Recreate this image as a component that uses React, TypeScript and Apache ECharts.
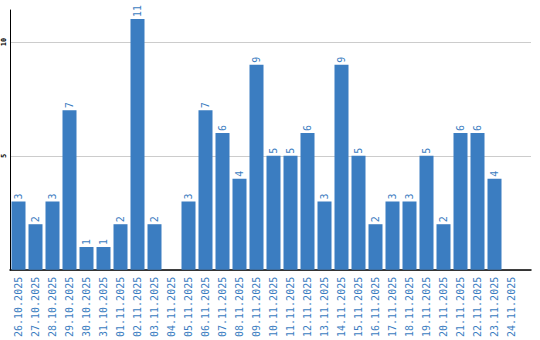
import React, { useEffect, useRef } from "react";
import * as echarts from "echarts";

const categories = [
  "26.10.2025", "27.10.2025", "28.10.2025", "29.10.2025", "30.10.2025", "31.10.2025",
  "01.11.2025", "02.11.2025", "03.11.2025", "04.11.2025", "05.11.2025", "06.11.2025",
  "07.11.2025", "08.11.2025", "09.11.2025", "10.11.2025", "11.11.2025", "12.11.2025",
  "13.11.2025", "14.11.2025", "15.11.2025", "16.11.2025", "17.11.2025", "18.11.2025",
  "19.11.2025", "20.11.2025", "21.11.2025", "22.11.2025", "23.11.2025", "24.11.2025",
];
const values = [3, 2, 3, 7, 1, 1, 2, 11, 2, 0, 3, 7, 6, 4, 9, 5, 5, 6, 3, 9, 5, 2, 3, 3, 5, 2, 6, 6, 4, 0];
const yMin = 0;
const yMax = 11.4;
const yInterval = 5;

const BLUE = "#3b7dc1";
const MONO = "'DejaVu Sans Mono', monospace";

export default function App() {
  const ref = useRef<HTMLDivElement>(null);
  useEffect(() => {
    document.body.style.margin = "0";
    if (!ref.current) return;
    const chart = echarts.init(ref.current, null, { renderer: "svg" });
    chart.setOption({
      animation: false,
      grid: [
        { left: 10, right: 20, top: 10, bottom: 70 },
        { left: 10, right: 9, top: 10, bottom: 70 },
      ],
      xAxis: [
        {
          type: "category",
          gridIndex: 0,
          data: categories,
          axisLine: { show: false },
          axisTick: { show: false },
          axisLabel: {
            rotate: 90,
            interval: 0,
            margin: 7,
            color: BLUE,
            fontFamily: MONO,
            fontSize: 10,
          },
        },
        {
          type: "value",
          gridIndex: 1,
          min: 0,
          max: 1,
          axisLine: { show: true, lineStyle: { color: "#000", width: 1.5 } },
          axisTick: { show: false },
          axisLabel: { show: false },
          splitLine: { show: false },
        },
      ],
      yAxis: [
        {
          type: "value",
          gridIndex: 0,
          min: yMin,
          max: yMax,
          interval: yInterval,
          show: false,
        },
        {
          type: "value",
          gridIndex: 1,
          min: yMin,
          max: yMax,
          interval: yInterval,
          axisLine: { show: true, lineStyle: { color: "#000", width: 1 } },
          axisTick: { show: false },
          axisLabel: {
            rotate: 90,
            margin: 3,
            color: "#000",
            fontFamily: MONO,
            fontSize: 7,
            fontWeight: "bold",
            showMaxLabel: false,
            formatter: (v: number) => (v === 0 || v === yMax ? "" : String(v)),
          },
          splitLine: {
            show: true,
            lineStyle: { color: ["#cccccc", "#cccccc", "#cccccc", "rgba(0,0,0,0)"], width: 1 },
          },
        },
      ],
      series: [
        {
          type: "bar",
          xAxisIndex: 0,
          yAxisIndex: 0,
          data: values,
          barWidth: 14,
          itemStyle: { color: BLUE },
          label: {
            show: true,
            position: "top",
            rotate: 90,
            align: "left",
            verticalAlign: "middle",
            distance: 2,
            color: BLUE,
            fontFamily: MONO,
            fontSize: 10,
            formatter: (p: any) => (p.value ? String(p.value) : ""),
          },
        },
      ],
    });
    return () => chart.dispose();
  }, []);
  return <div ref={ref} style={{ width: 540, height: 340 }} />;
}
